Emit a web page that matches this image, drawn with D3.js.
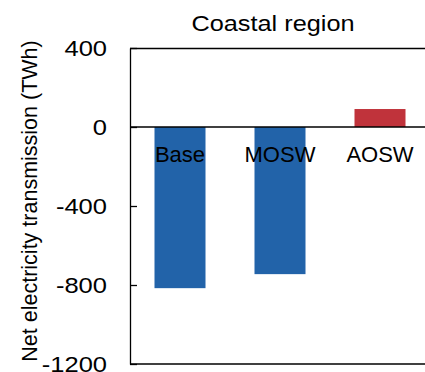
<!DOCTYPE html>
<html><head><meta charset="utf-8">
<script src="https://cdn.jsdelivr.net/npm/d3@7"></script>
<style>body{margin:0;background:#fff;} text{font-family:"Liberation Sans",Arial,sans-serif;fill:#000;}</style>
</head><body><svg id="c" width="425" height="372"></svg>
<script>
const categories = ["Base", "MOSW", "AOSW"];
const values = [-816, -745, 91];
const barColors = ["#2263a9", "#2263a9", "#c0333b"];
const yTicks = [400, 0, -400, -800, -1200];
const title = "Coastal region";
const yLabel = "Net electricity transmission (TWh)";

const svg = d3.select("#c");
const L = 130, R = 430, T = 48, B = 364;
const x = d3.scaleBand().domain(categories).range([L, R]).paddingInner(0.49).paddingOuter(0.245);
const y = d3.scaleLinear().domain([-1200, 400]).range([B, T]);

// bars
svg.selectAll("rect.bar").data(categories).enter().append("rect")
  .attr("class", "bar")
  .attr("x", d => x(d))
  .attr("width", x.bandwidth())
  .attr("y", (d, i) => y(Math.max(0, values[i])))
  .attr("height", (d, i) => Math.abs(y(values[i]) - y(0)))
  .attr("fill", (d, i) => barColors[i]);

// frame
svg.append("line").attr("x1", L).attr("x2", R).attr("y1", T + 0.5).attr("y2", T + 0.5).attr("stroke", "#000").attr("stroke-width", 1.3);
svg.append("line").attr("x1", L).attr("x2", R).attr("y1", B).attr("y2", B).attr("stroke", "#000").attr("stroke-width", 1.3);
svg.append("line").attr("x1", L).attr("x2", R).attr("y1", y(0)).attr("y2", y(0)).attr("stroke", "#000").attr("stroke-width", 1.3);

// y axis
const sx = 1.16;
const gy = svg.append("g").attr("transform", `translate(${L},0)`)
  .call(d3.axisLeft(y).tickValues(yTicks).tickFormat(d => String(d)).tickSizeInner(-7).tickSizeOuter(0).tickPadding(23));
gy.select(".domain").attr("stroke", "#000").attr("stroke-width", 1.3);
gy.selectAll(".tick line").attr("stroke", "#000").attr("stroke-width", 1.3);
gy.selectAll(".tick text").attr("font-size", 22).attr("font-family", "Liberation Sans, Arial, sans-serif")
  .attr("x", -23 / sx).attr("dy", "0.33em").attr("transform", `scale(${sx},1)`);

// category labels
svg.selectAll("text.cat").data(categories).enter().append("text")
  .attr("class", "cat")
  .attr("x", d => x(d) + x.bandwidth() / 2)
  .attr("y", y(0) + 35)
  .attr("text-anchor", "middle")
  .attr("font-size", 22)
  .text(d => d);

// title
svg.append("text").attr("transform", `translate(273,31) scale(1.15,1)`)
  .attr("text-anchor", "middle").attr("font-size", 22).text(title);

// y label
svg.append("text").attr("transform", `translate(37,201) rotate(-90)`)
  .attr("text-anchor", "middle").attr("font-size", 21.5).text(yLabel);
</script></body></html>
